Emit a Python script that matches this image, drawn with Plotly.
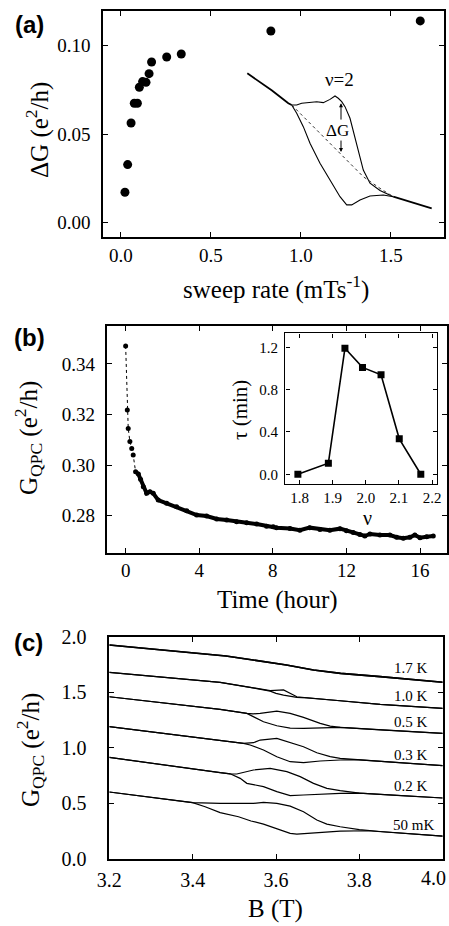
import plotly.graph_objects as go

W, H = 449, 926

# ---------------- Panel (a): ΔG vs sweep rate ----------------
sweep_rate = [0.022, 0.037, 0.056, 0.074, 0.091, 0.102, 0.12, 0.139, 0.156, 0.17, 0.254, 0.335, 0.833, 1.663]
delta_g = [0.0172, 0.0328, 0.0563, 0.0675, 0.0675, 0.0765, 0.0797, 0.0793, 0.0842, 0.0908, 0.0936, 0.0953, 0.1083, 0.114]

# inset of (a): hysteresis loop around nu=2 (fractions of the inset box)
ins_start_x = [0.0365, 0.08, 0.1165, 0.16, 0.200, 0.2415, 0.2585]
ins_start_y = [0.914, 0.876, 0.839, 0.803, 0.763, 0.721, 0.710]
ins_up_x = [0.2585, 0.2835, 0.3085, 0.350, 0.3835, 0.4165, 0.450, 0.475, 0.4915, 0.5085, 0.525, 0.550, 0.5835, 0.6165, 0.650, 0.700, 0.7665]
ins_up_y = [0.710, 0.710, 0.721, 0.725, 0.731, 0.725, 0.746, 0.768, 0.753, 0.731, 0.699, 0.624, 0.463, 0.290, 0.205, 0.158, 0.118]
ins_dn_x = [0.2585, 0.2835, 0.3165, 0.350, 0.400, 0.450, 0.500, 0.5335, 0.5585, 0.600, 0.650, 0.7165, 0.7665]
ins_dn_y = [0.710, 0.656, 0.570, 0.463, 0.334, 0.226, 0.118, 0.065, 0.065, 0.097, 0.123, 0.129, 0.118]
ins_tail_x = [0.7665, 0.850, 0.9585]
ins_tail_y = [0.118, 0.086, 0.043]
ins_dot_x = [0.2585, 0.3665, 0.450, 0.5335, 0.6165, 0.700, 0.7665]
ins_dot_y = [0.710, 0.570, 0.463, 0.355, 0.247, 0.172, 0.118]

# ---------------- Panel (b): G_QPC vs time ----------------
time_h = [0, 0.09, 0.14, 0.23, 0.33, 0.41, 0.54, 0.69, 0.81, 0.96, 1.14, 1.32, 1.5, 1.77, 2.23, 2.77,
          3.32, 3.86, 4.4, 4.95, 5.49, 6.03, 6.58, 7.12, 7.66, 8.02, 8.2, 8.93, 9.47, 10.0, 10.56, 11.1,
          11.65, 12.0, 12.37, 12.73, 13.0, 13.28, 13.82, 14.36, 14.73, 15.09, 15.45, 15.72, 16.0, 16.36, 16.72]
g_qpc = [0.3471, 0.3218, 0.3145, 0.3093, 0.3066, 0.3040, 0.2974, 0.2965, 0.2944, 0.2915, 0.2889, 0.2895,
         0.2889, 0.2862, 0.2849, 0.2836, 0.2820, 0.2803, 0.2799, 0.2787, 0.2783, 0.2776, 0.2772, 0.2767,
         0.2759, 0.2757, 0.2753, 0.2750, 0.2743, 0.2753, 0.2746, 0.2743, 0.2749, 0.2741, 0.2734, 0.2726,
         0.2720, 0.2728, 0.2724, 0.2724, 0.2715, 0.2711, 0.2715, 0.2724, 0.2713, 0.2717, 0.2720]

# inset of (b): tau vs filling factor
nu = [1.795, 1.887, 1.937, 1.990, 2.046, 2.101, 2.166]
tau_min = [0.0, 0.105, 1.19, 1.01, 0.94, 0.335, 0.0]

# ---------------- Panel (c): G_QPC vs B at several temperatures ----------------
temps = ["1.7 K", "1.0 K", "0.5 K", "0.3 K", "0.2 K", "50 mK"]
b_up = {
    "1.7 K": [3.2, 3.3, 3.4, 3.48, 3.545, 3.625, 3.69, 3.755, 3.85, 4.0],
    "1.0 K": [3.2, 3.3, 3.4, 3.466, 3.538, 3.586, 3.618, 3.638, 3.65, 3.674, 3.754, 3.85, 4.0],
    "0.5 K": [3.2, 3.3, 3.4, 3.466, 3.530, 3.545, 3.562, 3.602, 3.634, 3.666, 3.706, 3.730, 3.754, 3.85, 4.0],
    "0.3 K": [3.2, 3.3, 3.4, 3.466, 3.522, 3.546, 3.562, 3.602, 3.642, 3.666, 3.698, 3.730, 3.754, 3.79, 3.87, 4.0],
    "0.2 K": [3.2, 3.3, 3.4, 3.466, 3.49, 3.506, 3.546, 3.586, 3.626, 3.658, 3.690, 3.722, 3.754, 3.80, 3.90, 4.0],
    "50 mK": [3.2, 3.3, 3.4, 3.466, 3.546, 3.570, 3.602, 3.634, 3.666, 3.698, 3.722, 3.754, 3.80, 3.85, 4.0],
}
g_up = {
    "1.7 K": [1.925, 1.89, 1.853, 1.826, 1.79, 1.745, 1.70, 1.67, 1.64, 1.589],
    "1.0 K": [1.679, 1.643, 1.607, 1.589, 1.544, 1.514, 1.520, 1.483, 1.459, 1.450, 1.423, 1.39, 1.354],
    "0.5 K": [1.459, 1.414, 1.369, 1.345, 1.309, 1.305, 1.309, 1.330, 1.309, 1.273, 1.219, 1.195, 1.183, 1.16, 1.129],
    "0.3 K": [1.189, 1.141, 1.092, 1.060, 1.039, 1.045, 1.069, 1.084, 1.039, 1.009, 0.955, 0.919, 0.904, 0.893, 0.872, 0.838],
    "0.2 K": [0.913, 0.859, 0.805, 0.775, 0.765, 0.763, 0.799, 0.814, 0.784, 0.739, 0.679, 0.634, 0.613, 0.590, 0.568, 0.547],
    "50 mK": [0.601, 0.553, 0.505, 0.498, 0.498, 0.508, 0.498, 0.474, 0.423, 0.348, 0.312, 0.288, 0.262, 0.245, 0.204],
}
b_dn = {
    "1.7 K": [3.2, 3.3, 3.4, 3.48, 3.545, 3.625, 3.69, 3.755, 3.85, 4.0],
    "1.0 K": [3.2, 3.3, 3.4, 3.466, 3.538, 3.586, 3.60, 3.618, 3.65, 3.674, 3.754, 3.85, 4.0],
    "0.5 K": [3.2, 3.3, 3.4, 3.466, 3.530, 3.546, 3.570, 3.602, 3.634, 3.666, 3.706, 3.754, 3.85, 4.0],
    "0.3 K": [3.2, 3.3, 3.4, 3.466, 3.522, 3.538, 3.570, 3.602, 3.634, 3.666, 3.706, 3.754, 3.79, 3.87, 4.0],
    "0.2 K": [3.2, 3.3, 3.4, 3.466, 3.49, 3.514, 3.530, 3.570, 3.602, 3.634, 3.666, 3.706, 3.754, 3.80, 3.90, 4.0],
    "50 mK": [3.2, 3.3, 3.4, 3.43, 3.466, 3.51, 3.54, 3.57, 3.602, 3.634, 3.65, 3.69, 3.754, 3.82, 3.85, 4.0],
}
g_dn = {
    "1.7 K": [1.925, 1.89, 1.853, 1.826, 1.79, 1.745, 1.70, 1.67, 1.64, 1.589],
    "1.0 K": [1.679, 1.643, 1.607, 1.589, 1.544, 1.510, 1.49, 1.474, 1.453, 1.448, 1.423, 1.39, 1.354],
    "0.5 K": [1.459, 1.414, 1.369, 1.345, 1.309, 1.279, 1.234, 1.198, 1.177, 1.174, 1.177, 1.183, 1.16, 1.129],
    "0.3 K": [1.189, 1.141, 1.092, 1.060, 1.039, 1.024, 0.979, 0.919, 0.874, 0.865, 0.880, 0.889, 0.893, 0.872, 0.838],
    "0.2 K": [0.913, 0.859, 0.805, 0.775, 0.765, 0.724, 0.679, 0.649, 0.604, 0.568, 0.574, 0.583, 0.589, 0.590, 0.568, 0.547],
    "50 mK": [0.601, 0.553, 0.505, 0.468, 0.415, 0.378, 0.340, 0.312, 0.273, 0.228, 0.222, 0.234, 0.249, 0.252, 0.245, 0.204],
}
label_y_px = [668, 696, 722, 755, 786, 825]

SERIF = "Liberation Serif, Times New Roman, serif"
BLACK = "#000000"


def px_x(p):
    return p / W


def px_y(p):
    return 1 - p / H


fig = go.Figure()

# Panel (a)
fig.add_trace(go.Scatter(x=sweep_rate, y=delta_g, mode="markers", xaxis="x", yaxis="y",
                         marker=dict(size=9, color=BLACK), showlegend=False))
# inset of (a)
fig.add_trace(go.Scatter(x=ins_start_x, y=ins_start_y, mode="lines", xaxis="x5", yaxis="y5",
                         line=dict(color=BLACK, width=1.8), showlegend=False))
fig.add_trace(go.Scatter(x=ins_up_x, y=ins_up_y, mode="lines", xaxis="x5", yaxis="y5",
                         line=dict(color=BLACK, width=1.1), showlegend=False))
fig.add_trace(go.Scatter(x=ins_dn_x, y=ins_dn_y, mode="lines", xaxis="x5", yaxis="y5",
                         line=dict(color=BLACK, width=1.1), showlegend=False))
fig.add_trace(go.Scatter(x=ins_tail_x, y=ins_tail_y, mode="lines", xaxis="x5", yaxis="y5",
                         line=dict(color=BLACK, width=1.8), showlegend=False))
fig.add_trace(go.Scatter(x=ins_dot_x, y=ins_dot_y, mode="lines", xaxis="x5", yaxis="y5",
                         line=dict(color="#333333", width=1, dash="dot"), showlegend=False))

# Panel (b)
n_sparse = 7
fig.add_trace(go.Scatter(x=time_h[:n_sparse + 1], y=g_qpc[:n_sparse + 1], mode="lines", xaxis="x2", yaxis="y2",
                         line=dict(color=BLACK, width=1, dash="dot"), showlegend=False))
fig.add_trace(go.Scatter(x=time_h[n_sparse - 1:], y=g_qpc[n_sparse - 1:], mode="lines", xaxis="x2", yaxis="y2",
                         line=dict(color=BLACK, width=4), showlegend=False))
fig.add_trace(go.Scatter(x=time_h, y=g_qpc, mode="markers", xaxis="x2", yaxis="y2",
                         marker=dict(size=5, color=BLACK), showlegend=False))
# inset of (b)
fig.add_trace(go.Scatter(x=nu, y=tau_min, mode="lines+markers", xaxis="x3", yaxis="y3",
                         line=dict(color=BLACK, width=1.6),
                         marker=dict(symbol="square", size=7, color=BLACK), showlegend=False))

# Panel (c)
for t in temps:
    w = 1.6 if t == "1.7 K" else 1.2
    fig.add_trace(go.Scatter(x=b_up[t], y=g_up[t], mode="lines", xaxis="x4", yaxis="y4",
                             line=dict(color=BLACK, width=w), showlegend=False))
    fig.add_trace(go.Scatter(x=b_dn[t], y=g_dn[t], mode="lines", xaxis="x4", yaxis="y4",
                             line=dict(color=BLACK, width=w), showlegend=False))


def frame_axis(domain, rng, tickvals, fmt, anchor, size=19, standoff=0, ticklen=5, lw=1.6):
    return dict(domain=domain, range=rng, tickmode="array", tickvals=tickvals,
                ticktext=[format(v, fmt) for v in tickvals], ticks="inside", ticklen=ticklen,
                tickwidth=1.3, tickcolor=BLACK, showline=True, linecolor=BLACK, linewidth=lw,
                mirror="allticks", showgrid=False, zeroline=False, anchor=anchor, automargin=False,
                ticklabelstandoff=standoff,
                tickfont=dict(family=SERIF, size=size, color=BLACK))


c_xticks = [3.2, 3.4, 3.6, 3.8]  # 4.0 is written separately so it stays inside the page

fig.update_layout(
    template="none",
    width=W, height=H, margin=dict(l=0, r=0, t=0, b=0, pad=0),
    paper_bgcolor="white", plot_bgcolor="white", showlegend=False,
    font=dict(family=SERIF, color=BLACK),
    xaxis=frame_axis([px_x(103), px_x(444)], [-0.1, 1.795], [0.0, 0.5, 1.0, 1.5], ".1f", "y", standoff=0),
    yaxis=frame_axis([px_y(237), px_y(11)], [-0.0081, 0.1196], [0.0, 0.05, 0.10], ".2f", "x", standoff=7),
    xaxis2=frame_axis([px_x(106.7), px_x(446.7)], [-1.03, 17.45], [0, 4, 8, 12, 16], ".0f", "y2", standoff=0),
    yaxis2=frame_axis([px_y(552.7), px_y(325.7)], [0.2654, 0.3551], [0.28, 0.30, 0.32, 0.34], ".2f", "x2", standoff=6),
    xaxis3=frame_axis([px_x(285.3), px_x(436.7)], [1.757, 2.214], [1.8, 1.9, 2.0, 2.1, 2.2], ".1f", "y3",
                      size=15, standoff=0, ticklen=4, lw=1.4),
    yaxis3=frame_axis([px_y(484), px_y(333.3)], [-0.092, 1.332], [0.0, 0.4, 0.8, 1.2], ".1f", "x3",
                      size=15, standoff=3, ticklen=4, lw=1.4),
    xaxis4=frame_axis([px_x(109.3), px_x(442.7)], [3.2, 4.0], c_xticks, ".1f", "y4", size=20,
                      standoff=2),
    yaxis4=frame_axis([px_y(858.7), px_y(636.7)], [0, 2.0], [0.0, 0.5, 1.0, 1.5, 2.0], ".1f", "x4", size=20,
                      standoff=17),
    xaxis5=dict(domain=[px_x(240), px_x(440)], range=[0, 1], visible=False, anchor="y5", automargin=False),
    yaxis5=dict(domain=[px_y(215), px_y(60)], range=[0, 1], visible=False, anchor="x5", automargin=False),
)
# keep a tick mark at 4.0 on panel (c) (drawn as the frame corner) - add the label as text
ann = []


def add_text(text, xp, yp, size, angle=0, family=SERIF, xanchor="center", bold=False):
    if bold:
        text = "<b>" + text + "</b>"
    ann.append(dict(text=text, x=px_x(xp), y=px_y(yp), xref="paper", yref="paper", showarrow=False,
                    xanchor=xanchor, yanchor="middle", textangle=angle,
                    font=dict(family=family, size=size, color=BLACK)))


# panel labels
add_text("(a)", 29, 25, 24, family="Liberation Sans", bold=True)
add_text("(b)", 29, 337, 24, family="Liberation Sans", bold=True)
add_text("(c)", 28, 642, 24, family="Liberation Sans", bold=True)
# axis titles
add_text("ΔG (e<sup>2</sup>/h)", 37, 130, 25, angle=-90)
add_text("sweep rate (mTs<sup>-1</sup>)", 276, 287, 25)
add_text("G<sub>QPC</sub> (e<sup>2</sup>/h)", 28, 438, 25, angle=-90)
add_text("Time (hour)", 277, 600, 25)
add_text("τ (min)", 240, 410, 21, angle=-90)
add_text("ν", 367, 518, 20)
add_text("G<sub>QPC</sub> (e<sup>2</sup>/h)", 30, 750, 25, angle=-90)
add_text("B (T)", 275, 909, 25)
# last x tick label of panel (c), kept inside the page
add_text("4.0", 448, 878, 20, xanchor="right")
# temperature labels
for t, yp in zip(temps, label_y_px):
    xr = 436 if t == "50 mK" else 430
    add_text(t, xr, yp, 15, xanchor="right")

# inset (a) texts and arrows
ann.append(dict(text="ν=2", x=0.495, y=0.877, xref="x5", yref="y5", showarrow=False,
                font=dict(family=SERIF, size=19, color=BLACK)))
ann.append(dict(text="ΔG", x=0.4875, y=0.548, xref="x5", yref="y5", showarrow=False,
                font=dict(family=SERIF, size=17, color=BLACK)))
ann.append(dict(x=0.505, y=0.721, ax=0.505, ay=0.606, xref="x5", yref="y5", axref="x5", ayref="y5",
                text="", showarrow=True, arrowhead=2, arrowsize=0.8, arrowwidth=1, arrowcolor=BLACK))
ann.append(dict(x=0.505, y=0.406, ax=0.505, ay=0.490, xref="x5", yref="y5", axref="x5", ayref="y5",
                text="", showarrow=True, arrowhead=2, arrowsize=0.8, arrowwidth=1, arrowcolor=BLACK))

fig.update_layout(annotations=ann)
fig.write_html("out.html", config={"displayModeBar": False},
               post_script="document.body.style.margin='0px';document.body.style.padding='0px';")
